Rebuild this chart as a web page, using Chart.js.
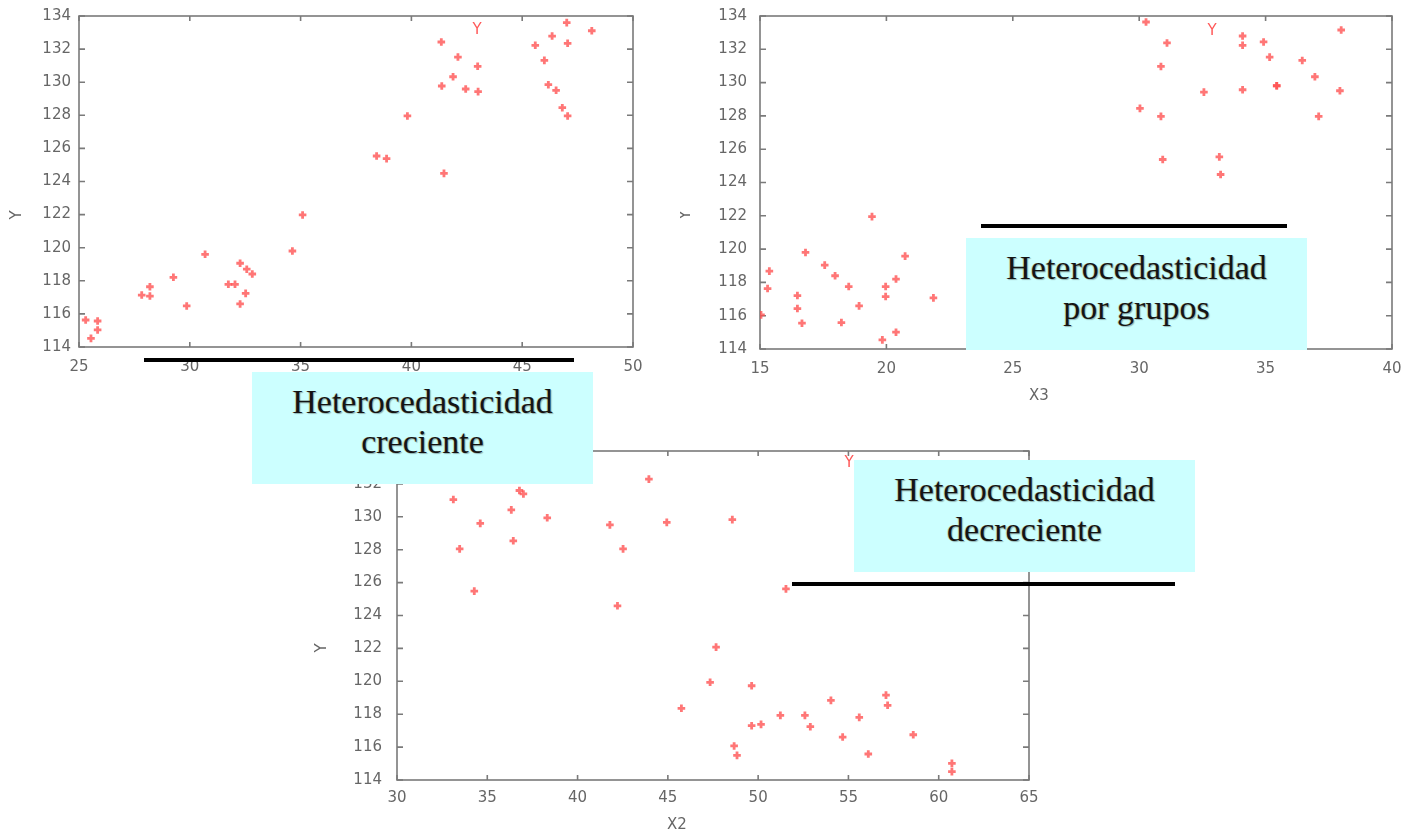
<!DOCTYPE html>
<html>
<head>
<meta charset="utf-8">
<script src="https://cdn.jsdelivr.net/npm/chart.js@4.4.1/dist/chart.umd.min.js"></script>
<style>
  body { margin: 0; background: #fff; width: 1402px; height: 831px; position: relative; overflow: hidden; }
  canvas { position: absolute; }
  .box {
    position: absolute; background: #ccffff; text-align: center; box-sizing: border-box;
    font-family: 'Liberation Serif', 'Times New Roman', serif; font-size: 34px; line-height: 40px;
    color: #141414; padding-top: 10px; z-index: 5;
    text-shadow: 1px 1px 1px rgba(0,0,0,0.3), -1px 0 0 rgba(170,140,60,0.3);
  }
  .rule { position: absolute; height: 4px; background: #000; z-index: 5; }
</style>
</head>
<body>
<canvas id="c1" width="650" height="400" style="left:0;top:0"></canvas>
<canvas id="c2" width="722" height="410" style="left:680px;top:0"></canvas>
<canvas id="c3" width="740" height="401" style="left:300px;top:430px"></canvas>

<div class="rule" style="left:144px;top:358px;width:430px"></div>
<div class="box" style="left:252px;top:372px;width:341px;height:112px">Heterocedasticidad<br>creciente</div>

<div class="rule" style="left:981px;top:224px;width:306px"></div>
<div class="box" style="left:966px;top:238px;width:341px;height:112px">Heterocedasticidad<br>por grupos</div>

<div class="box" style="left:854px;top:460px;width:341px;height:112px">Heterocedasticidad<br>decreciente</div>
<div class="rule" style="left:792px;top:582px;width:383px"></div>

<script>
// Y frente a un regresor de varianza creciente (panel superior izquierdo)
const x1 = [25.30, 25.54, 25.84, 25.84, 27.83, 28.20, 28.20, 29.26, 29.86, 30.69,
  31.74, 32.04, 32.27, 32.57, 32.82, 32.27, 32.52, 34.63, 35.09, 38.43,
  38.88, 39.82, 41.35, 41.37, 41.47, 41.88, 42.10, 42.45, 42.99, 43.01,
  45.59, 46.00, 46.18, 46.35, 46.53, 46.81, 47.01, 47.05, 47.05, 48.14];
const y1 = [115.63, 114.52, 115.57, 115.03, 117.14, 117.64, 117.08, 118.21, 116.48, 119.60,
  117.79, 117.79, 119.06, 118.70, 118.41, 116.60, 117.24, 119.80, 121.98, 125.54,
  125.38, 127.96, 132.43, 129.77, 124.49, 130.33, 131.52, 129.59, 130.96, 129.43,
  132.23, 131.32, 129.85, 132.79, 129.51, 128.46, 133.60, 132.35, 127.96, 133.11];

// Y frente a X3 (por grupos)
const x3 = [15.04, 15.30, 15.37, 16.48, 16.48, 16.66, 16.80, 17.56, 17.97, 18.22,
  18.51, 18.92, 19.43, 19.84, 19.97, 19.97, 20.38, 20.38, 20.74, 21.86,
  30.03, 30.27, 30.86, 30.86, 30.93, 31.10, 32.56, 33.17, 33.22, 34.09,
  34.09, 34.09, 34.92, 35.16, 35.44, 35.44, 36.45, 36.95, 37.10, 37.94, 37.99];
const y3 = [116.05, 117.63, 118.68, 117.21, 116.43, 115.55, 119.80, 119.04, 118.40, 115.59,
  117.75, 116.59, 121.95, 114.55, 117.75, 117.15, 118.20, 115.01, 119.58, 117.07,
  128.45, 133.64, 130.97, 127.97, 125.38, 132.38, 129.43, 125.54, 124.48, 132.80,
  132.24, 129.57, 132.44, 131.53, 129.81, 129.81, 131.33, 130.35, 127.97, 129.51, 133.16];

// Y frente a X2 (decreciente)
const x2 = [33.12, 33.47, 34.28, 34.61, 36.33, 36.44, 36.78, 37.00, 38.32, 41.79,
  42.21, 42.52, 43.95, 44.94, 45.75, 47.34, 47.67, 48.57, 48.67, 48.83,
  49.64, 49.64, 50.16, 51.23, 51.54, 52.59, 52.89, 54.03, 54.68, 55.60,
  56.10, 57.08, 57.17, 58.59, 60.73, 60.73];
const y2 = [131.05, 128.05, 125.48, 129.60, 130.42, 128.54, 131.60, 131.39, 129.94, 129.51,
  124.59, 128.05, 132.29, 129.66, 118.36, 119.94, 122.08, 129.83, 116.07, 115.50,
  119.73, 117.30, 117.38, 117.93, 125.62, 117.93, 117.24, 118.84, 116.61, 117.81,
  115.58, 119.16, 118.54, 116.75, 115.01, 114.51];

const yRange = [114, 134, 2];
const xRange1 = [25, 50, 5];
const xRange3 = [15, 40, 5];
const xRange2 = [30, 65, 5];

const tickFont = { family: 'DejaVu Sans', size: 15 };
const grey = '#666';

// borde completo estilo gnuplot con marcas hacia dentro
const gnuFrame = {
  id: 'gnuFrame',
  beforeDatasetsDraw(chart) {
    const { ctx, chartArea: a, scales } = chart;
    ctx.save();
    ctx.strokeStyle = '#7a7a7a';
    ctx.lineWidth = 1.6;
    ctx.strokeRect(a.left, a.top, a.right - a.left, a.bottom - a.top);
    ctx.beginPath();
    scales.x.ticks.forEach(t => {
      const px = scales.x.getPixelForValue(t.value);
      ctx.moveTo(px, a.bottom); ctx.lineTo(px, a.bottom - 5);
      ctx.moveTo(px, a.top); ctx.lineTo(px, a.top + 5);
    });
    scales.y.ticks.forEach(t => {
      const py = scales.y.getPixelForValue(t.value);
      ctx.moveTo(a.left, py); ctx.lineTo(a.left + 6, py);
      ctx.moveTo(a.right, py); ctx.lineTo(a.right - 6, py);
    });
    ctx.stroke();
    ctx.restore();
  },
  afterDraw(chart) {
    const opts = chart.options.plugins.gnuFrame || {};
    const { ctx } = chart;
    (opts.labels || []).forEach(l => {
      ctx.save();
      ctx.font = '15px "DejaVu Sans"';
      ctx.fillStyle = l.color || grey;
      ctx.textAlign = 'center';
      ctx.textBaseline = 'middle';
      ctx.translate(l.x, l.y);
      if (l.rotate) ctx.rotate(-Math.PI / 2);
      ctx.fillText(l.text, 0, 0);
      ctx.restore();
    });
  }
};

function makeChart(id, xs, ys, xRange, size, labels) {
  const points = xs.map((x, i) => ({ x, y: ys[i] }));
  return new Chart(document.getElementById(id).getContext('2d'), {
    type: 'scatter',
    data: {
      datasets: [{
        label: 'Y',
        data: points,
        pointStyle: 'cross',
        pointRadius: 3.8,
        borderWidth: 2.8,
        borderColor: 'rgba(255, 80, 80, 0.78)',
        backgroundColor: 'rgba(255, 80, 80, 0.78)'
      }]
    },
    options: {
      responsive: false,
      animation: false,
      devicePixelRatio: 1,
      layout: { autoPadding: false, padding: { top: size.top, right: size.right, left: 0, bottom: 0 } },
      plugins: {
        legend: { display: false },
        tooltip: { enabled: false },
        gnuFrame: { labels }
      },
      scales: {
        x: {
          type: 'linear', min: xRange[0], max: xRange[1],
          ticks: { stepSize: xRange[2], color: grey, font: tickFont, padding: size.xPad, maxRotation: 0 },
          grid: { display: false, drawTicks: false },
          border: { display: false },
          afterFit: s => { s.height = size.xh; s.paddingLeft = 0; s.paddingRight = 0; }
        },
        y: {
          min: yRange[0], max: yRange[1],
          ticks: { stepSize: yRange[2], color: grey, font: tickFont, padding: size.yPad },
          grid: { display: false, drawTicks: false },
          border: { display: false },
          afterFit: s => { s.width = size.yw; s.paddingTop = 0; s.paddingBottom = 0; }
        }
      }
    },
    plugins: [gnuFrame]
  });
}

makeChart('c1', x1, y1, xRange1,
  { top: 16, right: 17, xh: 53, yw: 79, xPad: 11, yPad: 8 },
  [{ text: 'Y', x: 17, y: 215, rotate: true }, { text: 'Y', x: 477, y: 30, color: '#ff5a5a' }]);

makeChart('c2', x3, y3, xRange3,
  { top: 16, right: 10, xh: 61, yw: 80, xPad: 11, yPad: 13 },
  [{ text: 'Y', x: 6, y: 215, rotate: true }, { text: 'Y', x: 532, y: 31, color: '#ff5a5a' },
   { text: 'X3', x: 359, y: 396 }]);

makeChart('c3', x2, y2, xRange2,
  { top: 21, right: 11, xh: 51, yw: 97, xPad: 9, yPad: 15 },
  [{ text: 'Y', x: 22, y: 218, rotate: true }, { text: 'Y', x: 549, y: 33, color: '#ff5a5a' },
   { text: 'X2', x: 377, y: 395 }]);
</script>
</body>
</html>
